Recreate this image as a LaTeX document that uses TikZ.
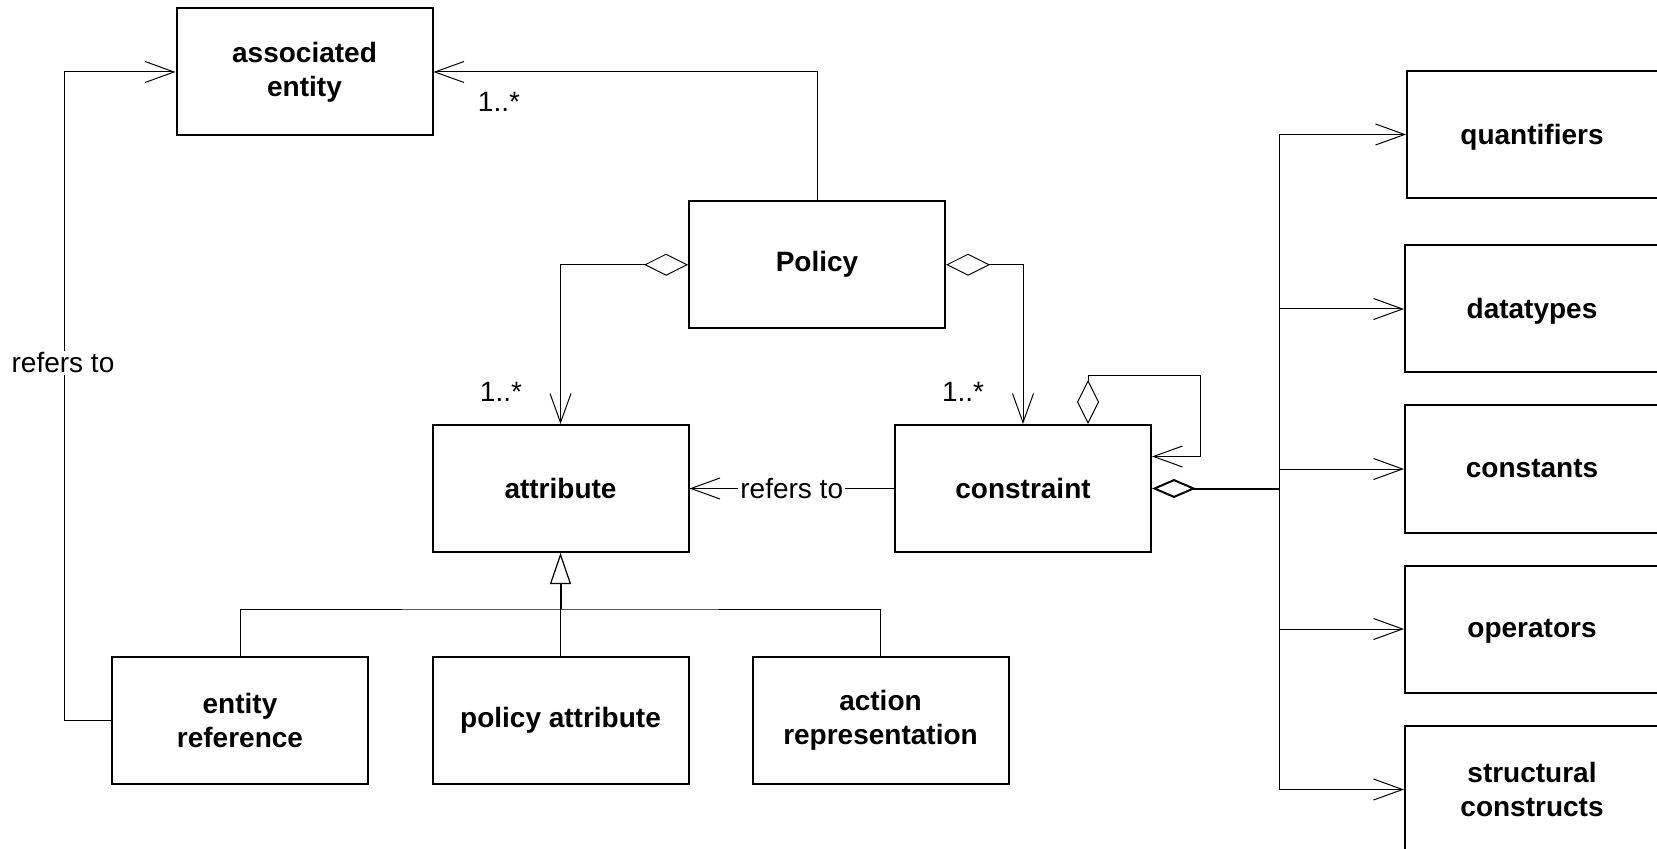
\documentclass[tikz,border=0pt]{standalone}
\usepackage{fontspec}
\setmainfont{Liberation Sans}
\usetikzlibrary{arrows.meta,calc}
\tikzset{
  box/.style={draw, line width=1pt, minimum width=128pt, minimum height=63.5pt, inner sep=0pt,
    align=center, font=\fontsize{14pt}{17pt}\selectfont\bfseries},
  lbl/.style={font=\fontsize{14pt}{17pt}\selectfont, inner sep=1pt},
  blbl/.style={font=\fontsize{14pt}{17pt}\selectfont\bfseries, inner sep=1pt, align=center},
  conn/.style={line width=0.5pt},
  open arrow/.style={-{Straight Barb[length=14.5pt,width=10.5pt,line width=0.5pt]}},
  aggr/.style={{Diamond[open,length=22pt,width=11pt,line width=0.5pt]}-{Straight Barb[length=14.5pt,width=10.5pt,line width=0.5pt]}},
}
\begin{document}
\begin{tikzpicture}[x=0.5pt,y=-0.5pt]
\useasboundingbox (0,0) rectangle (1657,849);
\clip (0,0) rectangle (1657,849);
% boxes
\node[box] (assoc) at (304.5,72) {associated\\entity};
\node[box] (policy) at (817,264.75) {Policy};
\node[box] (attribute) at (560.5,488.5) {attribute};
\node[box] (constraint) at (1023,488.5) {constraint};
\node[box] (entref) at (240,720) {entity\\reference};
\node[box] (polattr) at (560.5,720) {policy attribute};
\node[box] (action) at (880.5,720) {action\\representation};
\node[box] (quant) at (1535,134.5) {};
\node[blbl] (quantt) at (1532,137) {quantifiers};
\node[box] (dtypes) at (1533,309) {};
\node[blbl] (dtypest) at (1532,311) {datatypes};
\node[box] (consts) at (1533,469) {};
\node[blbl] (constst) at (1532,469) {constants};
\node[box] (ops) at (1533,629) {};
\node[blbl] (opst) at (1532,631) {operators};
\node[box] (struct) at (1533,789.5) {};
\node[blbl] (structt) at (1532,789.5) {structural\\constructs};
% policy -> associated entity
\draw[conn,open arrow] (policy.north) |- (assoc.east);
\node[lbl] (m1) at (499,102) {1..*};
% entity reference -> associated entity
\coordinate (rleft) at (64,720);
\draw[conn,open arrow] (entref.west) -- (rleft) |- (assoc.west);
\node[lbl,fill=white] (r1) at (63,363) {refers to};
% policy aggregations
\draw[conn,aggr] (policy.west) -| (attribute.north);
\node[lbl] (m2) at (501,392) {1..*};
\draw[conn,aggr] (policy.east) -| (constraint.north);
\node[lbl] (m3) at (963,392) {1..*};
% self loop on constraint
\coordinate (sl) at ($(constraint.north east)+(-64,0)$);
\draw[conn,{Diamond[open,length=22pt,width=11pt,line width=0.5pt]}-{Straight Barb[length=14.5pt,width=10.5pt,line width=0.5pt]}]
  (sl) -- ++(0,-48) -- ++(112,0) |- ($(constraint.east)+(0,-32)$);
% refers to constraint -> attribute
\draw[conn,open arrow] (constraint.west) -- node[lbl,fill=white] (r2) {refers to} (attribute.east);
% composition to bus
\coordinate (busj) at (1279,488.5);
\draw[line width=1pt,{Diamond[open,length=22pt,width=9.5pt,line width=1pt]}-] (constraint.east) -- (busj);
\draw[conn] (quant.west -| busj) -- (struct.west -| busj);
\draw[conn,open arrow] (quant.west -| busj) -- (quant.west);
\draw[conn,open arrow] (dtypes.west -| busj) -- (dtypes.west);
\draw[conn,open arrow] (consts.west -| busj) -- (consts.west);
\draw[conn,open arrow] (ops.west -| busj) -- (ops.west);
\draw[conn,open arrow] (struct.west -| busj) -- (struct.west);
% generalization
\coordinate (gbus) at (560.5,609);
\draw[conn] (entref.north) |- (gbus) -| (action.north);
\draw[conn] (polattr.north) -- (gbus);
\draw[line width=1pt,-{Triangle[open,length=15.5pt,width=10.5pt,line width=0.6pt]}] (gbus) -- (attribute.south);
\end{tikzpicture}
\end{document}
